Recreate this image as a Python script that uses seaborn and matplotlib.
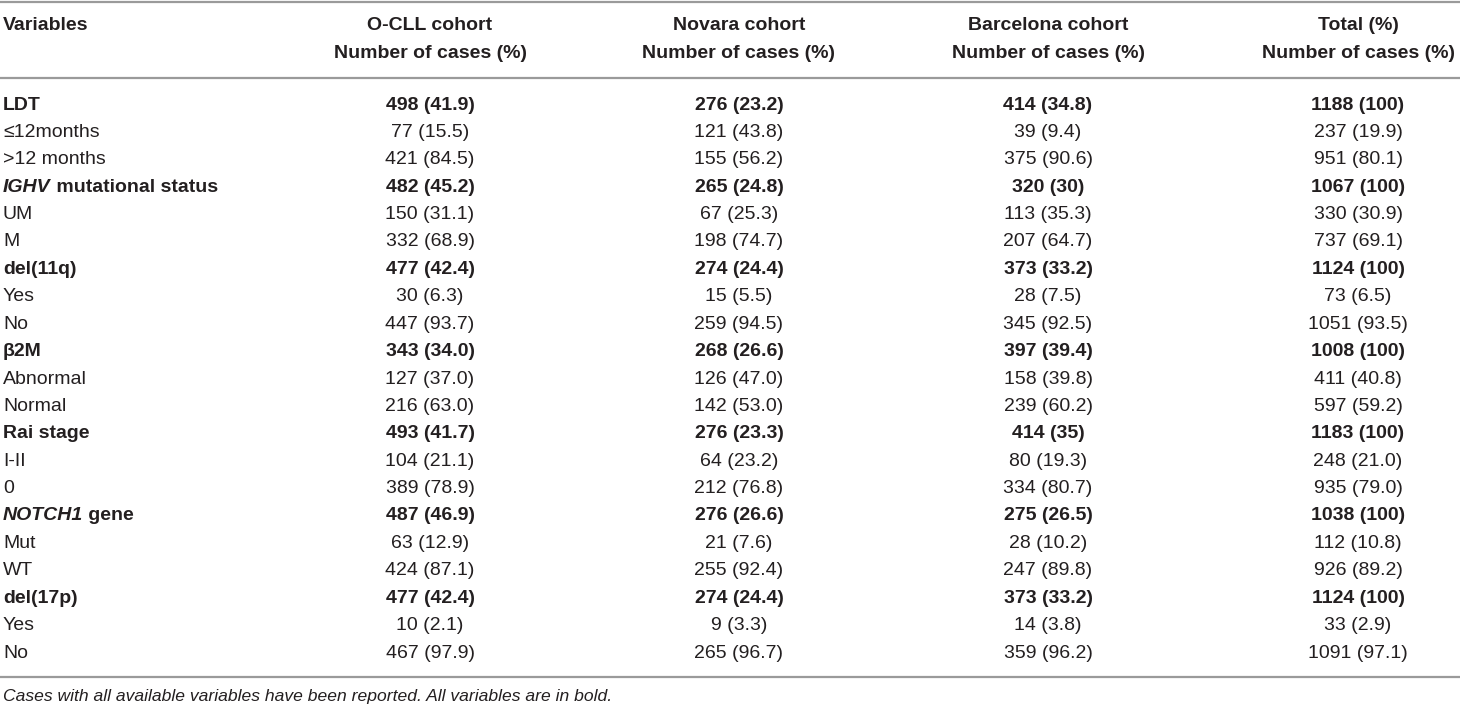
import matplotlib
matplotlib.use("Agg")
import matplotlib.pyplot as plt
import seaborn as sns
import pandas as pd

sns.set_theme(style="white")
plt.rcParams['font.family'] = ['Liberation Sans', 'DejaVu Sans']

# table contents ("|" splits an italic gene name from the rest of the label)
variables = ['LDT', '≤12months', '>12 months',
             'IGHV| mutational status', 'UM', 'M',
             'del(11q)', 'Yes', 'No',
             'β2M', 'Abnormal', 'Normal',
             'Rai stage', 'I-II', '0',
             'NOTCH1| gene', 'Mut', 'WT',
             'del(17p)', 'Yes', 'No']
is_header = [True, False, False] * 7
o_cll = ['498 (41.9)', '77 (15.5)', '421 (84.5)',
         '482 (45.2)', '150 (31.1)', '332 (68.9)',
         '477 (42.4)', '30 (6.3)', '447 (93.7)',
         '343 (34.0)', '127 (37.0)', '216 (63.0)',
         '493 (41.7)', '104 (21.1)', '389 (78.9)',
         '487 (46.9)', '63 (12.9)', '424 (87.1)',
         '477 (42.4)', '10 (2.1)', '467 (97.9)']
novara = ['276 (23.2)', '121 (43.8)', '155 (56.2)',
          '265 (24.8)', '67 (25.3)', '198 (74.7)',
          '274 (24.4)', '15 (5.5)', '259 (94.5)',
          '268 (26.6)', '126 (47.0)', '142 (53.0)',
          '276 (23.3)', '64 (23.2)', '212 (76.8)',
          '276 (26.6)', '21 (7.6)', '255 (92.4)',
          '274 (24.4)', '9 (3.3)', '265 (96.7)']
barcelona = ['414 (34.8)', '39 (9.4)', '375 (90.6)',
             '320 (30)', '113 (35.3)', '207 (64.7)',
             '373 (33.2)', '28 (7.5)', '345 (92.5)',
             '397 (39.4)', '158 (39.8)', '239 (60.2)',
             '414 (35)', '80 (19.3)', '334 (80.7)',
             '275 (26.5)', '28 (10.2)', '247 (89.8)',
             '373 (33.2)', '14 (3.8)', '359 (96.2)']
total = ['1188 (100)', '237 (19.9)', '951 (80.1)',
         '1067 (100)', '330 (30.9)', '737 (69.1)',
         '1124 (100)', '73 (6.5)', '1051 (93.5)',
         '1008 (100)', '411 (40.8)', '597 (59.2)',
         '1183 (100)', '248 (21.0)', '935 (79.0)',
         '1038 (100)', '112 (10.8)', '926 (89.2)',
         '1124 (100)', '33 (2.9)', '1091 (97.1)']
col_titles = ['O-CLL cohort\nNumber of cases (%)',
              'Novara cohort\nNumber of cases (%)',
              'Barcelona cohort\nNumber of cases (%)',
              'Total (%)\nNumber of cases (%)']
footnote = 'Cases with all available variables have been reported. All variables are in bold.'

df = pd.DataFrame({'Variables': variables, 'O-CLL': o_cll, 'Novara': novara,
                   'Barcelona': barcelona, 'Total': total, 'bold': is_header})

W, H = 1460, 707
fig = plt.figure(figsize=(W / 100, H / 100), dpi=100)
ax = fig.add_axes([0, 0, 1, 1])
ax.set_xlim(0, W)
ax.set_ylim(H, 0)
ax.axis('off')

ink = '#231f20'
rule = '#9a9a9a'
fs = 14
col_x = [430, 739, 1048, 1358]
row0, row_h = 105, 27.4

# horizontal rules
for yy in [1.5, 78, 677]:
    ax.axhline(yy, color=rule, lw=1.6)

# header
ax.text(3, 25, 'Variables', fontsize=fs, fontweight='bold', color=ink, va='center', ha='left')
for t, x in zip(col_titles, col_x):
    a, b = t.split('\n')
    ax.text(x, 25, a, fontsize=fs, fontweight='bold', color=ink, va='center', ha='center')
    ax.text(x, 53, b, fontsize=fs, fontweight='bold', color=ink, va='center', ha='center')

fig.canvas.draw()
for i, row in df.iterrows():
    y = row0 + i * row_h
    w = 'bold' if row['bold'] else 'normal'
    name = row['Variables']
    if '|' in name:
        part1, part2 = name.split('|')
        t1 = ax.text(3, y, part1, fontsize=fs, fontweight='bold', fontstyle='italic',
                     color=ink, va='center', ha='left')
        ax.annotate(part2, xy=(1, 0), xycoords=t1, va='bottom', ha='left',
                    fontsize=fs, fontweight='bold', color=ink)
    else:
        ax.text(3, y, name, fontsize=fs, fontweight=w, color=ink, va='center', ha='left')
    for col, x in zip(['O-CLL', 'Novara', 'Barcelona', 'Total'], col_x):
        ax.text(x, y, row[col], fontsize=fs, fontweight=w, color=ink, va='center', ha='center')

ax.text(3, 697, footnote, fontsize=12.6, fontstyle='italic', color=ink, va='center', ha='left')

fig.savefig('out.png', dpi=100)
